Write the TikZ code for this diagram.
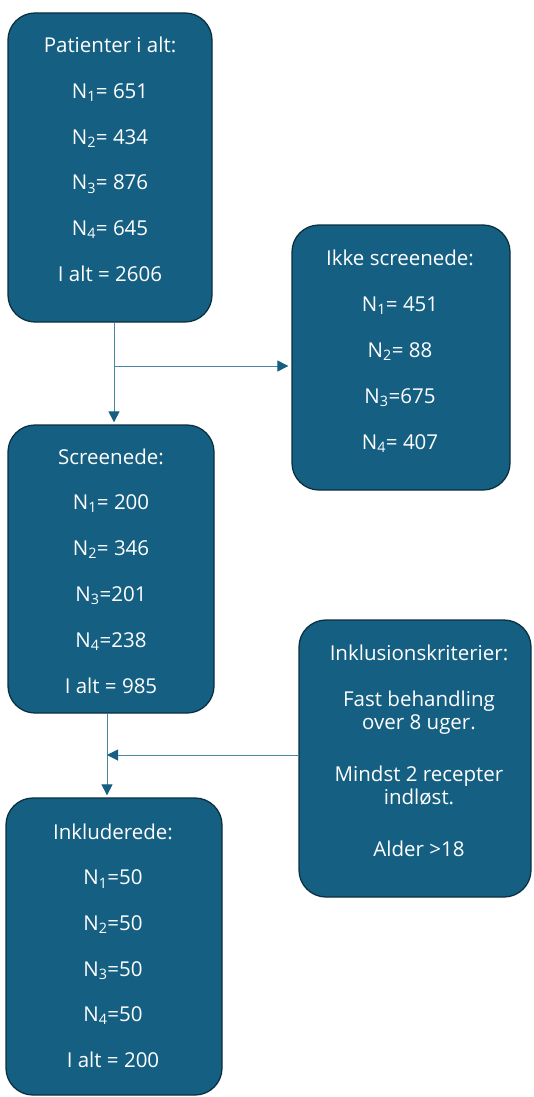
\documentclass[tikz,border=0pt]{standalone}
\usepackage{fontspec}
\setmainfont{Open Sans}
\usetikzlibrary{arrows.meta}
\definecolor{boxfill}{HTML}{156082}
\definecolor{boxedge}{HTML}{0A3041}
\definecolor{linecol}{HTML}{4A87A3}
\begin{document}
\begin{tikzpicture}[x=1pt,y=-1pt,
  flowbox/.style={draw=boxedge, fill=boxfill, line width=1.3pt, rounded corners=27pt, inner sep=0pt},
  txt/.style={text=white, anchor=base, inner sep=0pt, font=\fontsize{20.5}{24}\selectfont},
  conn/.style={draw=linecol, line width=1pt},
  arr/.style={-{Triangle[length=11pt,width=11pt,color=boxfill]}}]
\useasboundingbox (0,0) rectangle (533,1097);
% boxes
\node[flowbox, minimum width=204pt, minimum height=309pt] (b1) at (110,167.5) {};
\node[flowbox, minimum width=218pt, minimum height=265pt] (b2) at (401,357.5) {};
\node[flowbox, minimum width=206pt, minimum height=288pt] (b3) at (111,569) {};
\node[flowbox, minimum width=232pt, minimum height=277pt] (b4) at (415,758.5) {};
\node[flowbox, minimum width=216pt, minimum height=297pt] (b5) at (114,946.5) {};
% texts
\foreach \t [count=\i from 0] in {Patienter i alt:, N\textsubscript{1}= 651, N\textsubscript{2}= 434, N\textsubscript{3}= 876, N\textsubscript{4}= 645, I alt = 2606}
  \node[txt] (t1-\i) at (110,52.5+45.8*\i) {\t};
\foreach \t [count=\i from 0] in {Ikke screenede:, N\textsubscript{1}= 451, N\textsubscript{2}= 88, N\textsubscript{3}=675, N\textsubscript{4}= 407}
  \node[txt] (t2-\i) at (400,265+46.2*\i) {\t};
\foreach \t [count=\i from 0] in {Screenede:, N\textsubscript{1}= 200, N\textsubscript{2}= 346, N\textsubscript{3}=201, N\textsubscript{4}=238, I alt = 985}
  \node[txt] (t3-\i) at (111,464+45.8*\i) {\t};
\node[txt] (t4-0) at (419,660.7) {Inklusionskriterier:};
\node[txt] (t4-1) at (419,706.7) {Fast behandling};
\node[txt] (t4-2) at (419,729.3) {over 8 uger.};
\node[txt] (t4-3) at (419,781.7) {Mindst 2 recepter};
\node[txt] (t4-4) at (419,804.3) {indløst.};
\node[txt] (t4-5) at (419,856) {Alder >18};
\foreach \t [count=\i from 0] in {Inkluderede:, N\textsubscript{1}=50, N\textsubscript{2}=50, N\textsubscript{3}=50, N\textsubscript{4}=50, I alt = 200}
  \node[txt] (t5-\i) at (113,839.3+45.6*\i) {\t};
% connectors
\coordinate (j1) at (114,366);
\coordinate (j2) at (107,755);
\draw[conn, arr, shorten >=2pt] (b1.south -| j1) -- (b3.north -| j1);
\draw[conn, arr, shorten >=3pt] (j1) -- (b2.west |- j1);
\draw[conn, arr, shorten >=2pt] (b3.south -| j2) -- (b5.north -| j2);
\draw[conn, arr] (b4.west |- j2) -- (j2);
\end{tikzpicture}
\end{document}
